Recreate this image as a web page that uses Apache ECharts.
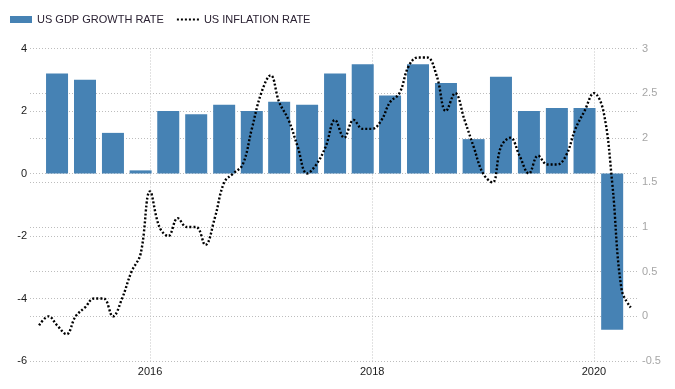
<!DOCTYPE html>
<html>
<head>
<meta charset="utf-8">
<script src="https://cdn.jsdelivr.net/npm/echarts@6/dist/echarts.min.js"></script>
<style>
html,body{margin:0;padding:0;background:#fff;}
#chart{width:675px;height:389px;}
</style>
</head>
<body>
<div id="chart"></div>
<script>
// ---- data ----
const gdpDates = [
  '2015-03-01','2015-06-01','2015-09-01','2015-12-01',
  '2016-03-01','2016-06-01','2016-09-01','2016-12-01',
  '2017-03-01','2017-06-01','2017-09-01','2017-12-01',
  '2018-03-01','2018-06-01','2018-09-01','2018-12-01',
  '2019-03-01','2019-06-01','2019-09-01','2019-12-01',
  '2020-03-01'
];
const gdpGrowth = [
  3.2, 3.0, 1.3, 0.1,
  2.0, 1.9, 2.2, 2.0,
  2.3, 2.2, 3.2, 3.5,
  2.5, 3.5, 2.9, 1.1,
  3.1, 2.0, 2.1, 2.1,
  -5.0
];
const inflationStartYear = 2015;
const inflationRate = [
  -0.1, 0.0, -0.1, -0.2, 0.0, 0.1, 0.2, 0.2, 0.0, 0.2, 0.5, 0.7,
  1.4, 1.0, 0.9, 1.1, 1.0, 1.0, 0.8, 1.1, 1.5, 1.6, 1.7, 2.1,
  2.5, 2.7, 2.4, 2.2, 1.9, 1.6, 1.7, 1.9, 2.2, 2.0, 2.2, 2.1,
  2.1, 2.2, 2.4, 2.5, 2.8, 2.9, 2.9, 2.7, 2.3, 2.5, 2.2, 1.9,
  1.6, 1.5, 1.9, 2.0, 1.8, 1.6, 1.8, 1.7, 1.7, 1.8, 2.1, 2.3,
  2.5, 2.3, 1.5, 0.3, 0.1
];
const xTickLabels = ['2016', '2018', '2020'];
const seriesNames = ['US GDP GROWTH RATE', 'US INFLATION RATE'];
const xRange = ['2014-12-02', '2020-05-25'];

// ---- build ----
function ts(s) {
  const p = s.split('-').map(Number);
  return new Date(p[0], p[1] - 1, p[2]).getTime();
}
const inflationDates = inflationRate.map((v, i) => {
  const y = inflationStartYear + Math.floor(i / 12);
  const m = (i % 12) + 1;
  return y + '-' + m + '-1';
});
const xTickValues = xTickLabels.map(y => ts(y + '-1-1'));

const font = 'Liberation Sans';
const chart = echarts.init(document.getElementById('chart'), null, {renderer: 'canvas'});
chart.setOption({
  backgroundColor: '#ffffff',
  animation: false,
  textStyle: {fontFamily: font},
  legend: {
    left: 5, top: 9,
    itemWidth: 22, itemHeight: 7, itemGap: 12,
    textStyle: {fontFamily: font, fontSize: 11, color: '#2b2233'},
    data: [
      {name: seriesNames[0], icon: 'rect'},
      {name: seriesNames[1], itemStyle: {opacity: 0}}
    ]
  },
  grid: {left: 30, right: 37, top: 48.5, bottom: 28, outerBoundsMode: 'none', containLabel: false},
  xAxis: {
    type: 'value',
    min: ts(xRange[0]),
    max: ts(xRange[1]),
    axisLine: {show: false},
    axisTick: {show: false, customValues: xTickValues},
    axisLabel: {
      customValues: xTickValues,
      formatter: v => String(new Date(v).getFullYear()),
      color: '#1a1a1a', fontSize: 11, margin: 5, fontFamily: font
    },
    splitLine: {show: true, lineStyle: {type: [1, 2], color: '#c4c4c4', width: 1}}
  },
  yAxis: [
    {
      type: 'value', min: -6, max: 4, interval: 2, position: 'left',
      axisLine: {show: false}, axisTick: {show: false},
      axisLabel: {color: '#1a1a1a', fontSize: 11, margin: 3, fontFamily: font},
      splitLine: {lineStyle: {type: [1, 2], color: '#bdbdbd', width: 1}}
    },
    {
      type: 'value', min: -0.5, max: 3, interval: 0.5, position: 'right',
      axisLine: {show: false}, axisTick: {show: false},
      axisLabel: {color: '#a6a6a6', fontSize: 11, margin: 4, fontFamily: font},
      splitLine: {lineStyle: {type: [1, 2], color: '#bdbdbd', width: 1}}
    }
  ],
  series: [
    {
      name: seriesNames[0],
      type: 'bar',
      yAxisIndex: 0,
      barWidth: 22,
      itemStyle: {color: '#4682b4'},
      data: gdpDates.map((d, i) => [ts(d), gdpGrowth[i]])
    },
    {
      name: seriesNames[1],
      type: 'line',
      yAxisIndex: 1,
      smooth: 0.4,
      symbol: 'none',
      z: 5,
      lineStyle: {color: '#000000', width: 2.4, type: [2, 2]},
      itemStyle: {color: '#000000'},
      data: inflationDates.map((d, i) => [ts(d), inflationRate[i]])
    }
  ]
});
</script>
</body>
</html>
